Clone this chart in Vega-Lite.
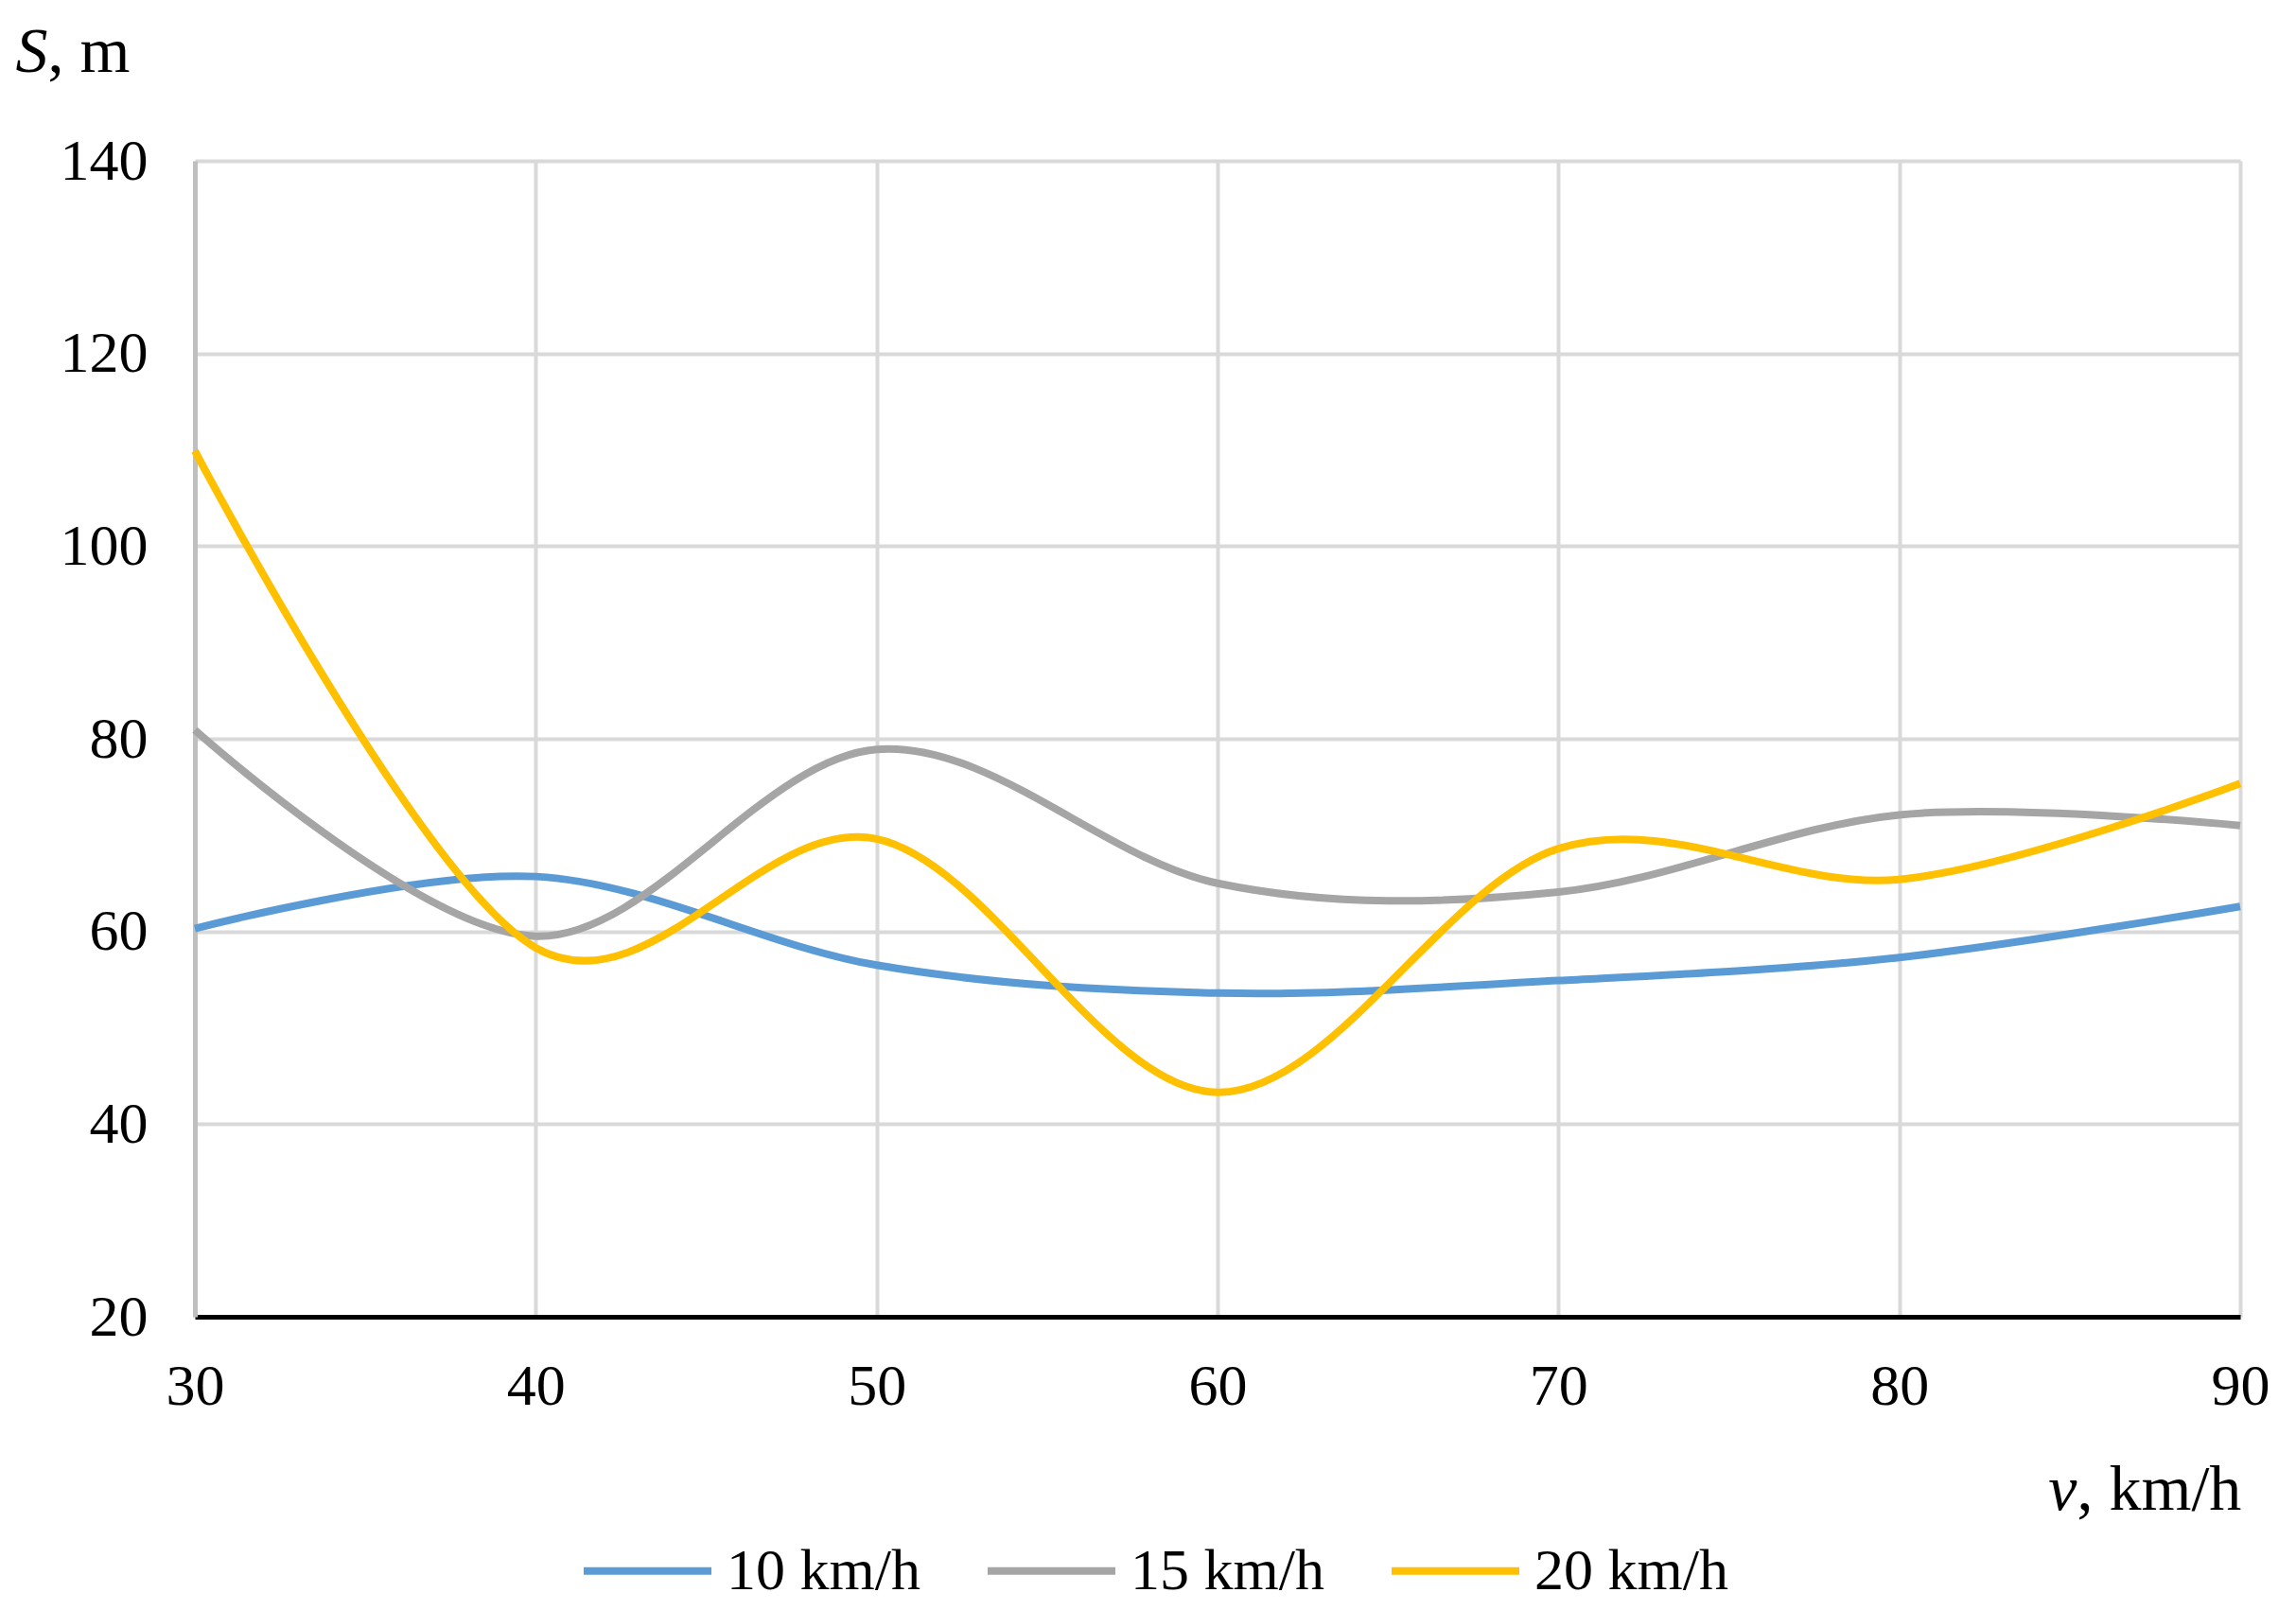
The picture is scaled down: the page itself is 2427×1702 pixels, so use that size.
{
  "$schema": "https://vega.github.io/schema/vega-lite/v6.json",
  "width": 2162,
  "height": 1222,
  "autosize": {"type": "none"},
  "padding": {"left": 206, "top": 170, "right": 59, "bottom": 310},
  "background": "white",
  "config": {"view": {"stroke": null}, "font": "Liberation Serif"},
  "data": {
    "values": [
      {"v": 30, "S": 60.3, "series": "10 km/h"},
      {"v": 40, "S": 65.7, "series": "10 km/h"},
      {"v": 50, "S": 56.5, "series": "10 km/h"},
      {"v": 60, "S": 53.6, "series": "10 km/h"},
      {"v": 70, "S": 54.9, "series": "10 km/h"},
      {"v": 80, "S": 57.3, "series": "10 km/h"},
      {"v": 90, "S": 62.6, "series": "10 km/h"},
      {"v": 30, "S": 80.9, "series": "15 km/h"},
      {"v": 40, "S": 59.5, "series": "15 km/h"},
      {"v": 50, "S": 78.9, "series": "15 km/h"},
      {"v": 60, "S": 65.0, "series": "15 km/h"},
      {"v": 70, "S": 64.1, "series": "15 km/h"},
      {"v": 80, "S": 72.1, "series": "15 km/h"},
      {"v": 90, "S": 71.0, "series": "15 km/h"},
      {"v": 30, "S": 109.9, "series": "20 km/h"},
      {"v": 40, "S": 58.3, "series": "20 km/h"},
      {"v": 50, "S": 69.6, "series": "20 km/h"},
      {"v": 60, "S": 43.3, "series": "20 km/h"},
      {"v": 70, "S": 68.6, "series": "20 km/h"},
      {"v": 80, "S": 65.4, "series": "20 km/h"},
      {"v": 90, "S": 75.35, "series": "20 km/h"}
    ]
  },
  "layer": [
    {
      "mark": {"type": "line", "interpolate": "cardinal", "strokeWidth": 8},
      "encoding": {
        "x": {
          "field": "v", "type": "quantitative",
          "scale": {"domain": [30, 90], "nice": false, "zero": false},
          "axis": {
            "values": [30, 40, 50, 60, 70, 80, 90],
            "title": "v", "titleFontStyle": "italic", "titleFontWeight": "normal", "titleFontSize": 68,
            "titleX": 1989, "titleY": 203, "titleAlign": "right", "titleBaseline": "alphabetic", "titleColor": "black",
            "labelFontSize": 62, "labelPadding": 43, "labelColor": "black", "labelFlush": false,
            "ticks": false, "domainColor": "#000000", "domainWidth": 5,
            "grid": true, "gridColor": "#d9d9d9", "gridWidth": 4
          }
        },
        "y": {
          "field": "S", "type": "quantitative",
          "scale": {"domain": [20, 140], "nice": false, "zero": false},
          "axis": {
            "values": [20, 40, 60, 80, 100, 120, 140],
            "title": "S", "titleFontStyle": "italic", "titleFontWeight": "normal", "titleFontSize": 68,
            "titleAngle": 0, "titleX": -156, "titleY": -95, "titleAlign": "right", "titleBaseline": "alphabetic", "titleColor": "black",
            "labelFontSize": 62, "labelPadding": 50, "labelColor": "black", "labelFlush": false,
            "ticks": false, "domainColor": "#bfbfbf", "domainWidth": 5,
            "grid": true, "gridColor": "#d9d9d9", "gridWidth": 4
          }
        },
        "color": {
          "field": "series", "type": "nominal",
          "scale": {"domain": ["10 km/h", "15 km/h", "20 km/h"], "range": ["#5B9BD5", "#A5A5A5", "#FFC000"]},
          "legend": {
            "title": null, "orient": "none", "direction": "horizontal",
            "legendX": 407, "legendY": 1419,
            "symbolType": "stroke", "symbolSize": 18225, "symbolStrokeWidth": 8,
            "labelFontSize": 62, "labelColor": "black", "labelOffset": 12, "labelLimit": 500, "columnPadding": 55
          }
        }
      }
    },
    {
      "mark": {"type": "line", "opacity": 0},
      "encoding": {
        "x": {
          "field": "v", "type": "quantitative",
          "axis": {
            "orient": "top", "title": ", km/h", "titleFontWeight": "normal", "titleFontSize": 68,
            "titleX": 1989, "titleY": 1425, "titleAlign": "left", "titleBaseline": "alphabetic", "titleColor": "black",
            "labels": false, "ticks": false, "domain": false, "grid": false
          }
        },
        "y": {
          "field": "S", "type": "quantitative",
          "axis": {
            "orient": "right", "title": ", m", "titleFontWeight": "normal", "titleFontSize": 68,
            "titleAngle": 0, "titleX": -2318, "titleY": -95, "titleAlign": "left", "titleBaseline": "alphabetic", "titleColor": "black",
            "labels": false, "ticks": false, "domain": false, "grid": false
          }
        },
        "detail": {"field": "series", "type": "nominal"}
      }
    }
  ],
  "resolve": {"axis": {"x": "independent", "y": "independent"}}
}
